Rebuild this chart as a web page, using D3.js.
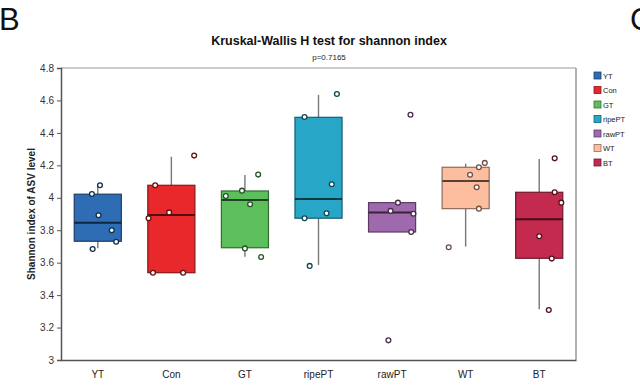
<!DOCTYPE html>
<html><head><meta charset="utf-8">
<script src="https://cdn.jsdelivr.net/npm/d3@7"></script>
<style>body{margin:0;background:#fff}svg{display:block}text{font-family:"Liberation Sans",Arial,sans-serif}</style>
</head><body>
<svg id="c" width="640" height="388"></svg>
<script>
const groups = ["YT","Con","GT","ripePT","rawPT","WT","BT"];
const colors = ["#2e6db4","#e8282b","#5cbf5c","#27a6c7","#9f69ae","#fdbd9f","#c32a4e"];
// box stats: [whiskerLow, q1, median, q3, whiskerHigh]
const boxStats = [
  [3.689, 3.732, 3.846, 4.022, 4.073],
  [3.538, 3.538, 3.894, 4.077, 4.253],
  [3.637, 3.692, 3.986, 4.042, 4.140],
  [3.586, 3.874, 3.993, 4.496, 4.634],
  [3.789, 3.789, 3.910, 3.970, 3.970],
  [3.699, 3.933, 4.104, 4.188, 4.210],
  [3.313, 3.627, 3.867, 4.034, 4.239]
];
// individual sample values per group
const samples = [
  [4.077, 4.023, 3.892, 3.800, 3.729, 3.684],
  [4.260, 4.077, 3.910, 3.874, 3.538, 3.538],
  [4.143, 4.044, 4.011, 3.960, 3.688, 3.635],
  [4.640, 4.498, 4.083, 3.904, 3.874, 3.580],
  [4.512, 3.970, 3.919, 3.902, 3.789, 3.121],
  [4.215, 4.188, 4.142, 4.065, 3.933, 3.695],
  [4.243, 4.034, 3.970, 3.763, 3.625, 3.308]
];
// horizontal jitter of each sample, as a fraction of the band step
const jitter = [
  [0.03, -0.08, 0.01, 0.19, 0.25, -0.07],
  [0.31, -0.22, -0.03, -0.31, -0.25, 0.16],
  [0.18, -0.04, -0.26, 0.07, 0.00, 0.22],
  [0.25, -0.19, 0.18, 0.11, -0.19, -0.12],
  [0.25, 0.08, -0.02, 0.29, 0.26, -0.05],
  [0.26, 0.18, 0.06, 0.15, 0.18, -0.23],
  [0.21, 0.21, 0.30, 0.00, 0.17, 0.13]
];
const yTicks = [3, 3.2, 3.4, 3.6, 3.8, 4, 4.2, 4.4, 4.6, 4.8];
const title = "Kruskal-Wallis H test for shannon index";
const pText = "p=0.7165";
const yLabel = "Shannon index of ASV level";

const svg = d3.select("#c");
const L = 61, R = 576, T = 68, B = 360;
const x = d3.scaleBand().domain(groups).range([L, R]).padding(0);
const y = d3.scaleLinear().domain([3, 4.8]).range([B, T]);
const bw = x.bandwidth() * 0.64;

// panel letters
svg.append("text").attr("x", -1).attr("y", 30).attr("font-size", 31).attr("fill", "#111").text("B");
svg.append("text").attr("x", 630).attr("y", 30).attr("font-size", 31).attr("fill", "#111").text("C");

// title
svg.append("text").attr("x", 329).attr("y", 45).attr("text-anchor", "middle")
  .attr("font-size", 12.5).attr("font-weight", "bold").attr("fill", "#111").text(title);
svg.append("text").attr("x", 329).attr("y", 60).attr("text-anchor", "middle")
  .attr("font-size", 8).attr("fill", "#222").text(pText);

// frame (top/right)
svg.append("line").attr("x1", L).attr("x2", R).attr("y1", T).attr("y2", T).attr("stroke", "#999").attr("stroke-width", 1);
svg.append("line").attr("x1", R).attr("x2", R).attr("y1", T).attr("y2", B).attr("stroke", "#999").attr("stroke-width", 1.5);

// axes
const ya = svg.append("g").attr("transform", `translate(${L},0)`)
  .call(d3.axisLeft(y).tickValues(yTicks).tickSize(4).tickPadding(3).tickFormat(d => d3.format("~g")(d)));
ya.select(".domain").attr("stroke", "#555").attr("stroke-width", 1.5);
ya.selectAll(".tick line").attr("stroke", "#555");
ya.selectAll(".tick text").attr("font-size", 10).attr("fill", "#333").attr("font-family", "Liberation Sans, Arial, sans-serif");

const xa = svg.append("g").attr("transform", `translate(0,${B})`)
  .call(d3.axisBottom(x).tickSize(0).tickPadding(11));
xa.select(".domain").attr("stroke", "#555").attr("stroke-width", 1.5);
xa.selectAll(".tick text").attr("font-size", 10).attr("fill", "#222").attr("font-family", "Liberation Sans, Arial, sans-serif");

svg.append("text").attr("transform", `translate(35,${(T + B) / 2}) rotate(-90)`)
  .attr("text-anchor", "middle").attr("font-size", 10).attr("font-weight", "bold").attr("fill", "#222").text(yLabel);

// boxes
groups.forEach((g, i) => {
  const [wl, q1, med, q3, wh] = boxStats[i];
  const cx = x(g) + x.bandwidth() / 2;
  const col = colors[i];
  const dark = d3.color(col).darker(1.6);
  const gg = svg.append("g");
  gg.append("line").attr("x1", cx).attr("x2", cx).attr("y1", y(wl)).attr("y2", y(wh))
    .attr("stroke", "#777").attr("stroke-width", 1.4);
  gg.append("rect").attr("x", cx - bw / 2).attr("width", bw)
    .attr("y", y(q3)).attr("height", y(q1) - y(q3))
    .attr("fill", col).attr("stroke", dark).attr("stroke-width", 1.2);
  gg.append("line").attr("x1", cx - bw / 2).attr("x2", cx + bw / 2).attr("y1", y(med)).attr("y2", y(med))
    .attr("stroke", d3.color(col).darker(3)).attr("stroke-width", 2);
  gg.selectAll("circle").data(samples[i]).join("circle")
    .attr("cx", (d, k) => cx + jitter[i][k] * x.step())
    .attr("cy", d => y(d)).attr("r", 2.4)
    .attr("fill", "#fff").attr("stroke", d3.color(col).darker(2.4)).attr("stroke-width", 1.3);
});

// legend
const lg = svg.append("g");
groups.forEach((g, i) => {
  const yy = 72 + i * 14.5;
  lg.append("rect").attr("x", 594).attr("y", yy).attr("width", 7).attr("height", 7)
    .attr("fill", colors[i]).attr("stroke", d3.color(colors[i]).darker(1.5)).attr("stroke-width", 0.8);
  lg.append("text").attr("x", 603).attr("y", yy + 6.5).attr("font-size", 7.5).attr("fill", "#222").text(g);
});
</script>
</body></html>
